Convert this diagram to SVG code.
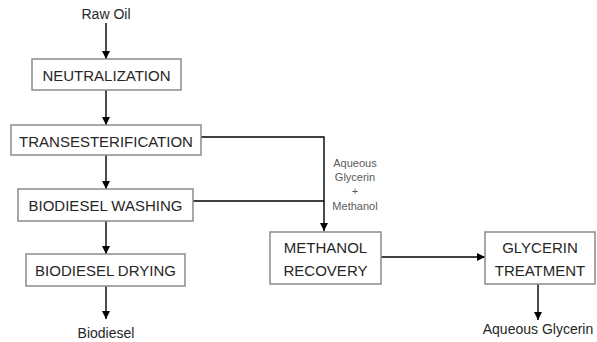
<svg xmlns="http://www.w3.org/2000/svg" width="597" height="342" viewBox="0 0 597 342">
<defs>
<marker id="arr" markerUnits="userSpaceOnUse" markerWidth="9" markerHeight="8" refX="8" refY="4" orient="auto">
<path d="M0,0 L8,4 L0,8 z" fill="#000"/>
</marker>
<style>
.box{fill:#fff;stroke:#8a8a8a;stroke-width:1.5}
.t{font-family:"Liberation Sans",Arial,sans-serif;font-size:15px;fill:#262626;text-anchor:middle}
.s{font-family:"Liberation Sans",Arial,sans-serif;font-size:14px;fill:#262626;text-anchor:middle}
.lbl{font-family:"Liberation Sans",Arial,sans-serif;font-size:11px;fill:#5a5a5a;text-anchor:middle}
.c{fill:none;stroke:#000;stroke-width:1.4}
</style>
</defs>
<rect width="597" height="342" fill="#fff"/>
<g id="connectors">
<line class="c" x1="106" y1="23" x2="106" y2="59" marker-end="url(#arr)"/>
<line class="c" x1="106" y1="90" x2="106" y2="125" marker-end="url(#arr)"/>
<line class="c" x1="106" y1="155" x2="106" y2="189" marker-end="url(#arr)"/>
<line class="c" x1="106" y1="221" x2="106" y2="254" marker-end="url(#arr)"/>
<line class="c" x1="106" y1="286" x2="106" y2="319" marker-end="url(#arr)"/>
<polyline class="c" points="201,137 324,137 324,231" marker-end="url(#arr)"/>
<line class="c" x1="193" y1="201" x2="324" y2="201"/>
<line class="c" x1="381" y1="257" x2="485" y2="257" marker-end="url(#arr)"/>
<line class="c" x1="538" y1="284" x2="538" y2="320" marker-end="url(#arr)"/>
<g id="flow-label">
<text class="lbl" x="355" y="167">Aqueous</text>
<text class="lbl" x="355" y="181">Glycerin</text>
<text class="lbl" x="355" y="195">+</text>
<text class="lbl" x="355" y="210">Methanol</text>
</g>
</g>
<g id="raw-oil"><text class="s" x="106" y="19">Raw Oil</text></g>
<g id="neutralization">
<rect class="box" x="32" y="59" width="149" height="31"/>
<text class="t" x="106.5" y="80.5">NEUTRALIZATION</text>
</g>
<g id="transesterification">
<rect class="box" x="11" y="125" width="190" height="30"/>
<text class="t" x="106" y="146.5">TRANSESTERIFICATION</text>
</g>
<g id="biodiesel-washing">
<rect class="box" x="18" y="189" width="175" height="32"/>
<text class="t" x="105.5" y="210.5">BIODIESEL WASHING</text>
</g>
<g id="biodiesel-drying">
<rect class="box" x="26" y="254" width="159" height="32"/>
<text class="t" x="105.5" y="275.5">BIODIESEL DRYING</text>
</g>
<g id="biodiesel"><text class="s" x="106" y="338">Biodiesel</text></g>
<g id="methanol-recovery">
<rect class="box" x="270" y="232" width="111" height="52"/>
<text class="t" x="325.5" y="253">METHANOL</text>
<text class="t" x="325.5" y="276">RECOVERY</text>
</g>
<g id="glycerin-treatment">
<rect class="box" x="485" y="232" width="110" height="52"/>
<text class="t" x="540" y="253">GLYCERIN</text>
<text class="t" x="540" y="276">TREATMENT</text>
</g>
<g id="aqueous-glycerin"><text class="s" x="538" y="334">Aqueous Glycerin</text></g>
</svg>
